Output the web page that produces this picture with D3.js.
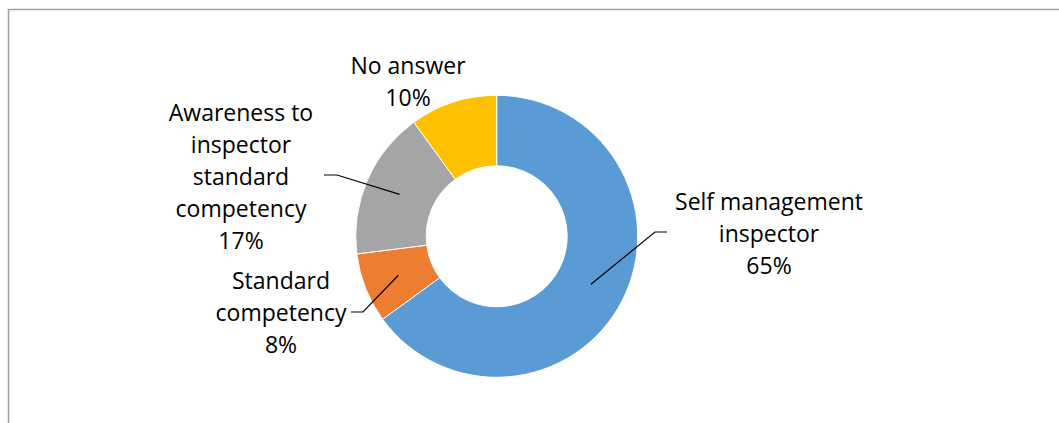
<!DOCTYPE html>
<html>
<head>
<meta charset="utf-8">
<script src="https://cdn.jsdelivr.net/npm/d3@7"></script>
<style>
  html, body { margin: 0; padding: 0; background: #ffffff; }
  svg { display: block; }
  text { font-family: "Open Sans", "Liberation Sans", sans-serif; }
</style>
</head>
<body>
<svg id="chart" width="1059" height="423"></svg>
<script>
// Survey answers, in drawing order (clockwise from 12 o'clock)
const categories = [
  ["Self management", "inspector"],
  ["Standard", "competency"],
  ["Awareness to", "inspector", "standard", "competency"],
  ["No answer"]
];
const values = [65, 8, 17, 10];
const colors = ["#5B9BD5", "#ED7D31", "#A5A5A5", "#FFC000"];

// Label placement: text centre x, first baseline y, and optional leader elbow
const labelLayout = [
  { x: 769, y: 210, elbow: [655, 232], tail: [667, 232] },
  { x: 281, y: 289, elbow: [363, 312], tail: [351, 312] },
  { x: 241, y: 121, elbow: [337, 175], tail: [324, 175] },
  { x: 408, y: 74 }
];

const W = 1059, H = 423;
const cx = 496.7, cy = 236.3;
const outerR = 141, innerR = 70.5;
const lineGap = 32;

const svg = d3.select("#chart");

// Chart area frame
svg.append("rect")
  .attr("x", 8.5).attr("y", 9.5)
  .attr("width", W + 10).attr("height", H + 10)
  .attr("fill", "none")
  .attr("stroke", "#a0a0a0")
  .attr("stroke-width", 1.5);

const pie = d3.pie().sort(null).value(d => d)(values);
const arc = d3.arc().innerRadius(innerR).outerRadius(outerR);

const g = svg.append("g").attr("transform", `translate(${cx},${cy})`);

g.selectAll("path.slice")
  .data(pie)
  .join("path")
  .attr("class", "slice")
  .attr("d", arc)
  .attr("fill", (d, i) => colors[i])
  .attr("stroke", "#ffffff")
  .attr("stroke-width", 1);

// Leader lines from slice centroid to label
pie.forEach((d, i) => {
  const L = labelLayout[i];
  if (!L.elbow) return;
  const c = arc.centroid(d);
  const pts = [[c[0] + cx, c[1] + cy], L.elbow, L.tail];
  svg.append("path")
    .attr("d", d3.line()(pts))
    .attr("fill", "none")
    .attr("stroke", "#000000")
    .attr("stroke-width", 1.2);
});

// Data labels: category name plus percentage
pie.forEach((d, i) => {
  const L = labelLayout[i];
  const lines = categories[i].concat([values[i] + "%"]);
  const t = svg.append("text")
    .attr("text-anchor", "middle")
    .attr("font-size", 23)
    .attr("fill", "#000000");
  lines.forEach((s, k) => {
    t.append("tspan")
      .attr("x", L.x)
      .attr("y", L.y + k * lineGap)
      .text(s);
  });
});
</script>
</body>
</html>
